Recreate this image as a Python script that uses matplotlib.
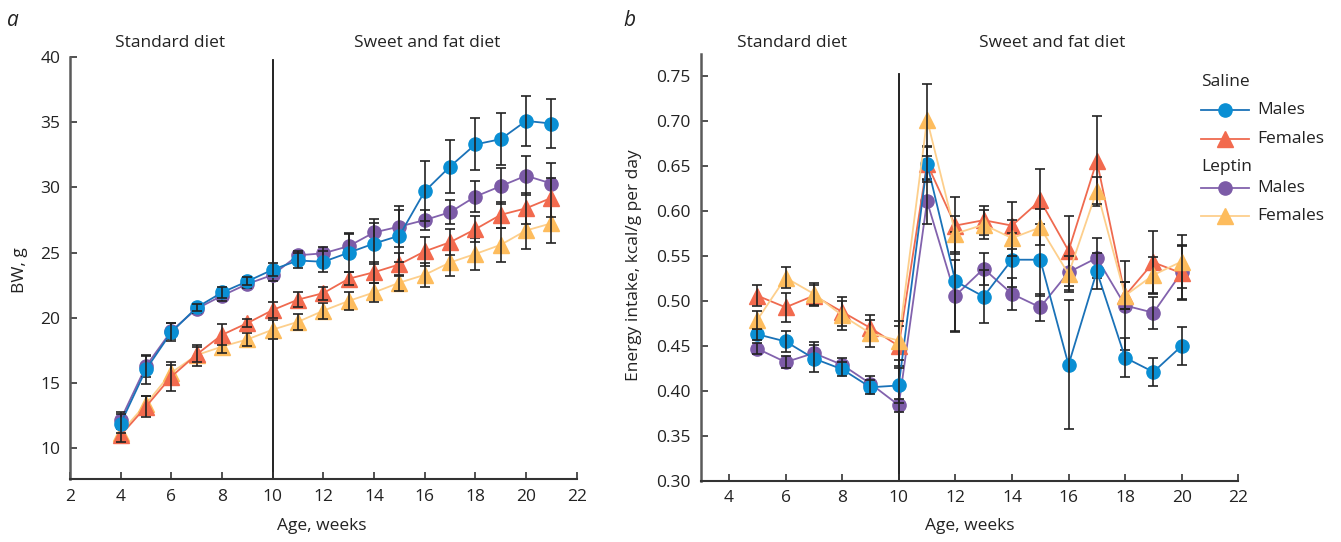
import matplotlib
matplotlib.use("Agg")
import matplotlib.pyplot as plt
from matplotlib.lines import Line2D

plt.rcParams['font.family'] = ['Open Sans', 'DejaVu Sans']

# ---------------- data: panel a (body weight, g) ----------------
weeks_a = [4, 5, 6, 7, 8, 9, 10, 11, 12, 13, 14, 15, 16, 17, 18, 19, 20, 21]
bw_sal_m = [11.9, 16.05, 18.9, 20.8, 21.95, 22.8, 23.7, 24.4, 24.3, 25.0, 25.7, 26.3, 29.7, 31.6, 33.3, 33.7, 35.1, 34.9]
bw_sal_m_err = [0.7, 1.1, 0.7, 0.3, 0.4, 0.3, 0.5, 0.6, 0.8, 1.5, 1.6, 2.0, 2.3, 2.0, 2.0, 2.0, 1.9, 1.85]
bw_sal_f = [11.0, 13.2, 15.5, 17.2, 18.7, 19.6, 20.6, 21.4, 21.9, 23.0, 23.5, 24.1, 25.1, 25.8, 26.8, 27.9, 28.4, 29.2]
bw_sal_f_err = [0.5, 0.8, 1.1, 0.6, 0.8, 0.3, 0.6, 0.6, 0.5, 0.5, 0.8, 0.9, 1.1, 1.0, 1.0, 1.0, 1.2, 1.5]
bw_lep_m = [12.2, 16.3, 19.0, 20.7, 21.7, 22.6, 23.3, 24.8, 24.95, 25.5, 26.55, 27.0, 27.5, 28.1, 29.3, 30.1, 30.9, 30.3]
bw_lep_m_err = [0.6, 0.8, 0.6, 0.3, 0.4, 0.3, 0.5, 0.3, 0.5, 0.9, 1.0, 1.6, 0.8, 0.9, 1.2, 1.4, 1.5, 1.6]
bw_lep_f = [11.2, 13.4, 15.8, 17.15, 17.8, 18.35, 19.1, 19.7, 20.55, 21.3, 21.95, 22.7, 23.3, 24.25, 24.9, 25.6, 26.7, 27.25]
bw_lep_f_err = [0.4, 0.6, 0.6, 0.8, 0.5, 0.5, 0.75, 0.6, 0.6, 0.7, 0.7, 0.6, 0.9, 1.0, 1.2, 1.3, 1.4, 1.5]

# ---------------- data: panel b (energy intake, kcal/g per day) ----------------
weeks_b = [5, 6, 7, 8, 9, 10, 11, 12, 13, 14, 15, 16, 17, 18, 19, 20]
ei_sal_m = [0.463, 0.455, 0.436, 0.424, 0.404, 0.406, 0.653, 0.522, 0.505, 0.546, 0.546, 0.429, 0.533, 0.437, 0.421, 0.450]
ei_sal_m_err = [0.006, 0.012, 0.015, 0.008, 0.008, 0.02, 0.02, 0.055, 0.029, 0.03, 0.04, 0.072, 0.02, 0.022, 0.016, 0.021]
ei_sal_f = [0.506, 0.493, 0.506, 0.488, 0.470, 0.450, 0.653, 0.584, 0.590, 0.584, 0.612, 0.556, 0.656, 0.506, 0.543, 0.531]
ei_sal_f_err = [0.012, 0.016, 0.012, 0.016, 0.015, 0.022, 0.018, 0.032, 0.016, 0.026, 0.035, 0.039, 0.05, 0.015, 0.035, 0.03]
ei_lep_m = [0.447, 0.432, 0.442, 0.429, 0.408, 0.384, 0.611, 0.506, 0.536, 0.508, 0.493, 0.532, 0.548, 0.495, 0.487, 0.532]
ei_lep_m_err = [0.006, 0.007, 0.012, 0.008, 0.008, 0.007, 0.025, 0.04, 0.018, 0.018, 0.015, 0.02, 0.022, 0.05, 0.018, 0.03]
ei_lep_f = [0.479, 0.526, 0.508, 0.484, 0.464, 0.456, 0.702, 0.575, 0.585, 0.570, 0.582, 0.530, 0.623, 0.506, 0.529, 0.544]
ei_lep_f_err = [0.01, 0.012, 0.012, 0.016, 0.015, 0.022, 0.04, 0.02, 0.016, 0.02, 0.02, 0.02, 0.015, 0.015, 0.02, 0.03]

# ---------------- styles ----------------
C_BLUE_M, C_BLUE_L = '#0a8fd4', '#1a72b8'
C_RED_M, C_RED_L = '#f26a4e', '#ef6a4f'
C_PUR_M, C_PUR_L = '#7c5ba7', '#8262ad'
C_YEL_M, C_YEL_L = '#fdbc5d', '#fdcf8c'

W, H = 1341, 542
fig = plt.figure(figsize=(W / 100, H / 100), dpi=100)


def px(x, y):
    return x / W, 1 - y / H


ax_a = fig.add_axes([70 / W, (H - 479) / H, 506.7 / W, 422 / H])
ax_b = fig.add_axes([700.7 / W, (H - 480.7) / H, 537.6 / W, 426.7 / H])

series_a = [
    (bw_lep_f, bw_lep_f_err, C_YEL_L, C_YEL_M, '^', 11),
    (bw_lep_m, bw_lep_m_err, C_PUR_L, C_PUR_M, 'o', 9.5),
    (bw_sal_f, bw_sal_f_err, C_RED_L, C_RED_M, '^', 11),
    (bw_sal_m, bw_sal_m_err, C_BLUE_L, C_BLUE_M, 'o', 9.5),
]
series_b = [
    (ei_lep_m, ei_lep_m_err, C_PUR_L, C_PUR_M, 'o', 9.5),
    (ei_sal_f, ei_sal_f_err, C_RED_L, C_RED_M, '^', 11),
    (ei_sal_m, ei_sal_m_err, C_BLUE_L, C_BLUE_M, 'o', 9.5),
    (ei_lep_f, ei_lep_f_err, C_YEL_L, C_YEL_M, '^', 11),
]


def draw(ax, xs, series):
    z = 2
    for vals, err, lc, mc, mk, ms in series:
        ax.plot(xs, vals, color=lc, lw=1.3, zorder=z)
        ax.plot(xs, vals, ls='none', marker=mk, ms=ms, mfc=mc, mec=mc, zorder=z + 0.5)
        ax.errorbar(xs, vals, yerr=err, fmt='none', ecolor='#222222', elinewidth=1.2,
                    capsize=3.3, capthick=1.2, zorder=z + 1)
        z += 2


draw(ax_a, weeks_a, series_a)
draw(ax_b, weeks_b, series_b)

# panel a axes
ax_a.set_xlim(2, 22)
ax_a.set_ylim(7.65, 40)
ax_a.set_xticks(range(2, 23, 2))
ax_a.set_yticks(range(10, 41, 5))
ax_a.plot([10, 10], [7.65, 39.8], color='#111111', lw=1.3, zorder=1)

# panel b axes
ax_b.set_xlim(3, 22)
ax_b.set_ylim(0.30, 0.775)
ax_b.set_xticks(range(4, 23, 2))
ax_b.set_yticks([0.30, 0.35, 0.40, 0.45, 0.50, 0.55, 0.60, 0.65, 0.70, 0.75])
ax_b.set_yticklabels(['%.2f' % v for v in [0.30, 0.35, 0.40, 0.45, 0.50, 0.55, 0.60, 0.65, 0.70, 0.75]])
ax_b.plot([10, 10], [0.30, 0.753], color='#111111', lw=1.3, zorder=1)

for ax in (ax_a, ax_b):
    ax.spines['top'].set_visible(False)
    ax.spines['right'].set_visible(False)
    ax.spines['left'].set_color('#5a5a5a')
    ax.spines['left'].set_linewidth(1.8)
    ax.spines['bottom'].set_color('#333333')
    ax.spines['bottom'].set_linewidth(1.5)
    ax.tick_params(direction='in', length=5, width=1.2, colors='#333333',
                   labelcolor='#222222', labelsize=12.5, pad=7)

ax_a.set_ylabel('BW, g', fontsize=12.5, color='#222222')
ax_a.yaxis.set_label_coords(-0.083, 0.495)
ax_a.set_xlabel('Age, weeks', fontsize=12.5, color='#222222')
ax_a.xaxis.set_label_coords(0.497, -0.092)

ax_b.set_ylabel('Energy intake, kcal/g per day', fontsize=12.5, color='#222222')
ax_b.yaxis.set_label_coords(-0.109, 0.5055)
ax_b.set_xlabel('Age, weeks', fontsize=12.5, color='#222222')
ax_b.xaxis.set_label_coords(0.501, -0.0874)

# panel letters and diet headers
fig.text(*px(13, 20), 'a', fontsize=15, style='italic', ha='center', va='center', color='#222222')
fig.text(*px(629, 20), 'b', fontsize=15, style='italic', ha='center', va='center', color='#222222')
for (x, t) in [(170, 'Standard diet'), (427, 'Sweet and fat diet'),
               (792, 'Standard diet'), (1052, 'Sweet and fat diet')]:
    fig.text(*px(x, 43), t, fontsize=12.5, ha='center', va='center', color='#222222')

# legend (manual)
leg_items = [
    ('head', 'Saline', 82, None),
    ('item', 'Males', 110, (C_BLUE_L, C_BLUE_M, 'o', 9.5)),
    ('item', 'Females', 139, (C_RED_L, C_RED_M, '^', 11)),
    ('head', 'Leptin', 167, None),
    ('item', 'Males', 188, (C_PUR_L, C_PUR_M, 'o', 9.5)),
    ('item', 'Females', 216, (C_YEL_L, C_YEL_M, '^', 11)),
]
for kind, label, y, sty in leg_items:
    if kind == 'head':
        fig.text(*px(1201, y), label, fontsize=12.5, ha='left', va='center', color='#222222')
    else:
        lc, mc, mk, ms = sty
        x0, yy = px(1201, y)
        x1, _ = px(1249, y)
        xm, _ = px(1225, y)
        fig.add_artist(Line2D([x0, x1], [yy, yy], transform=fig.transFigure, color=lc, lw=1.3))
        fig.add_artist(Line2D([xm], [yy], transform=fig.transFigure, ls='none', marker=mk,
                              ms=ms, mfc=mc, mec=mc))
        fig.text(*px(1257, y), label, fontsize=12.5, ha='left', va='center', color='#222222')

fig.savefig('out.png', dpi=100)
